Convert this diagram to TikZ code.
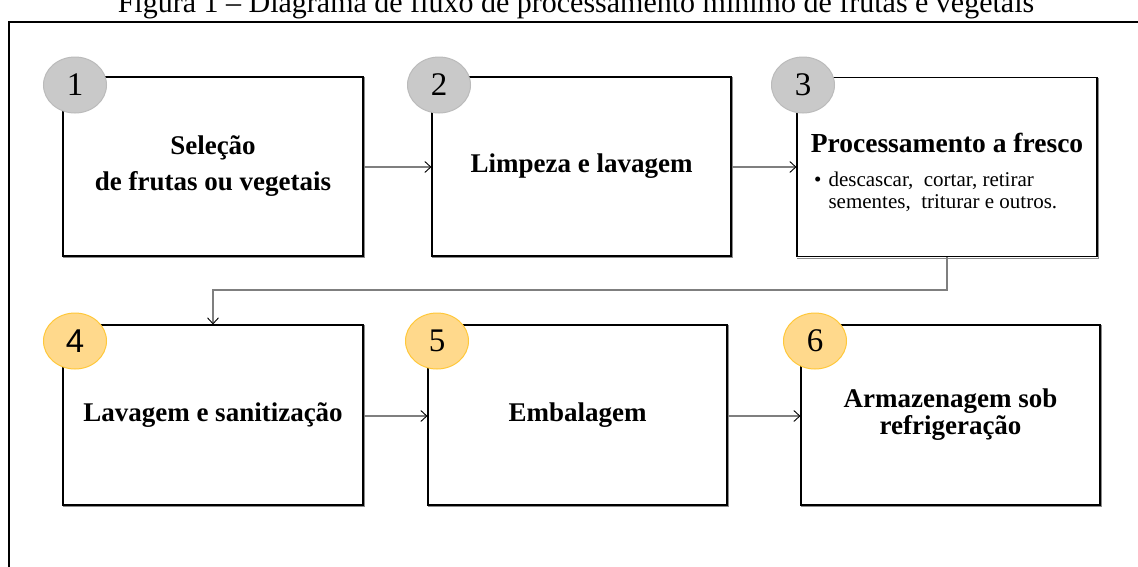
\documentclass[tikz,border=0pt]{standalone}
\usepackage{fontspec}
\setmainfont{Liberation Serif}
\newfontfamily\sansf{Liberation Sans}
\usetikzlibrary{arrows.meta,shapes.geometric,calc}
\definecolor{circgray}{HTML}{C9C9C9}
\definecolor{circgrayline}{HTML}{BBBBBB}
\definecolor{circyel}{HTML}{FFD98C}
\definecolor{circyelline}{HTML}{FFC83A}
\definecolor{connc}{HTML}{7F7F7F}
\begin{document}
\begin{tikzpicture}[x=1pt,y=-1pt,
  stepbox/.style={draw=black,line width=1.1pt,fill=white,minimum width=300pt,
    minimum height=179pt,inner sep=0pt,align=center,
    font=\fontsize{27}{36}\selectfont\bfseries},
  shadowline/.style={draw=black!45,line width=1.2pt},
  numgray/.style={ellipse,draw=circgrayline,fill=circgray,line width=1pt,
    minimum width=63pt,minimum height=56pt,inner sep=0pt,
    font=\fontsize{33}{33}\selectfont},
  numyel/.style={numgray,draw=circyelline,fill=circyel},
  conn/.style={draw=connc,line width=1.3pt,
    -{Straight Barb[length=6pt,width=11pt,color=black,line width=0.9pt]}},
  frame/.style={draw=black,line width=1.4pt}]
\useasboundingbox (0,0) rectangle (1138,566);
\clip (0,0) rectangle (1138,566);
\fill[white] (0,0) rectangle (1138,566);

% title (cut by the top edge, as in the reference)
\node[anchor=base,inner sep=0pt,font=\fontsize{30}{30}\selectfont] (title) at (576,12)
  {Figura 1 -- Diagrama de fluxo de processamento mínimo de frutas e vegetais};

% frame
\draw[frame] (9,570) -- (9,22) -- (1145,22);
\draw[draw=black,line width=2.6pt] (9,22) -- (1145,22);

% boxes row 1
\node[stepbox] (b1) at (213,166.5) {Seleção\\de frutas ou vegetais};
\node[stepbox,minimum width=299pt] (b2) at (581.5,166.5) {Limpeza e lavagem};
\node[stepbox] (b3) at (947,167) {};
\node[anchor=base,inner sep=0pt,font=\fontsize{27.5}{30}\selectfont\bfseries] (b3t) at (947,152)
  {Processamento a fresco};
\node[anchor=base west,inner sep=0pt,font=\fontsize{21}{22.5}\selectfont] (b3b) at (814,186)
  {\begin{tabular}[t]{@{}l@{\hspace{7pt}}l@{}}•&descascar,~ cortar, retirar\\&sementes,~ triturar e outros.\end{tabular}};

% boxes row 2
\node[stepbox,minimum height=180pt] (b4) at (213,415) {Lavagem e sanitização};
\node[stepbox,minimum height=180pt,minimum width=299pt] (b5) at (577.5,415) {Embalagem};
\node[stepbox,minimum height=180pt,minimum width=299pt,font=\fontsize{27}{27}\selectfont\bfseries] (b6) at (950.5,415) {Armazenagem sob\\refrigeração};

% slight shadow lines on right and bottom edges
\foreach \b in {b1,b2,b3,b4,b5,b6}{
  \draw[shadowline] ($(\b.north east)+(1.3,1)$) -- ($(\b.south east)+(1.3,1.3)$) -- ($(\b.south west)+(1,1.3)$);
}

% number circles
\node[numgray] (n1) at (75,85) {1};
\node[numgray] (n2) at (439,85) {2};
\node[numgray] (n3) at (803,85) {3};
\node[numyel] (n4) at (75,341) {\sansf 4};
\node[numyel] (n5) at (437,341) {5};
\node[numyel] (n6) at (815,341) {6};

% connectors
\draw[conn] (b1.east |- 0,167) -- (b2.west |- 0,167);
\draw[conn] (b2.east |- 0,167) -- (b3.west |- 0,167);
\coordinate (turn) at (947,290);
\draw[conn] (b3.south) -- (turn) -| (b4.north);
\draw[conn] (b4.east |- 0,416) -- (b5.west |- 0,416);
\draw[conn] (b5.east |- 0,416) -- (b6.west |- 0,416);
\end{tikzpicture}
\end{document}
